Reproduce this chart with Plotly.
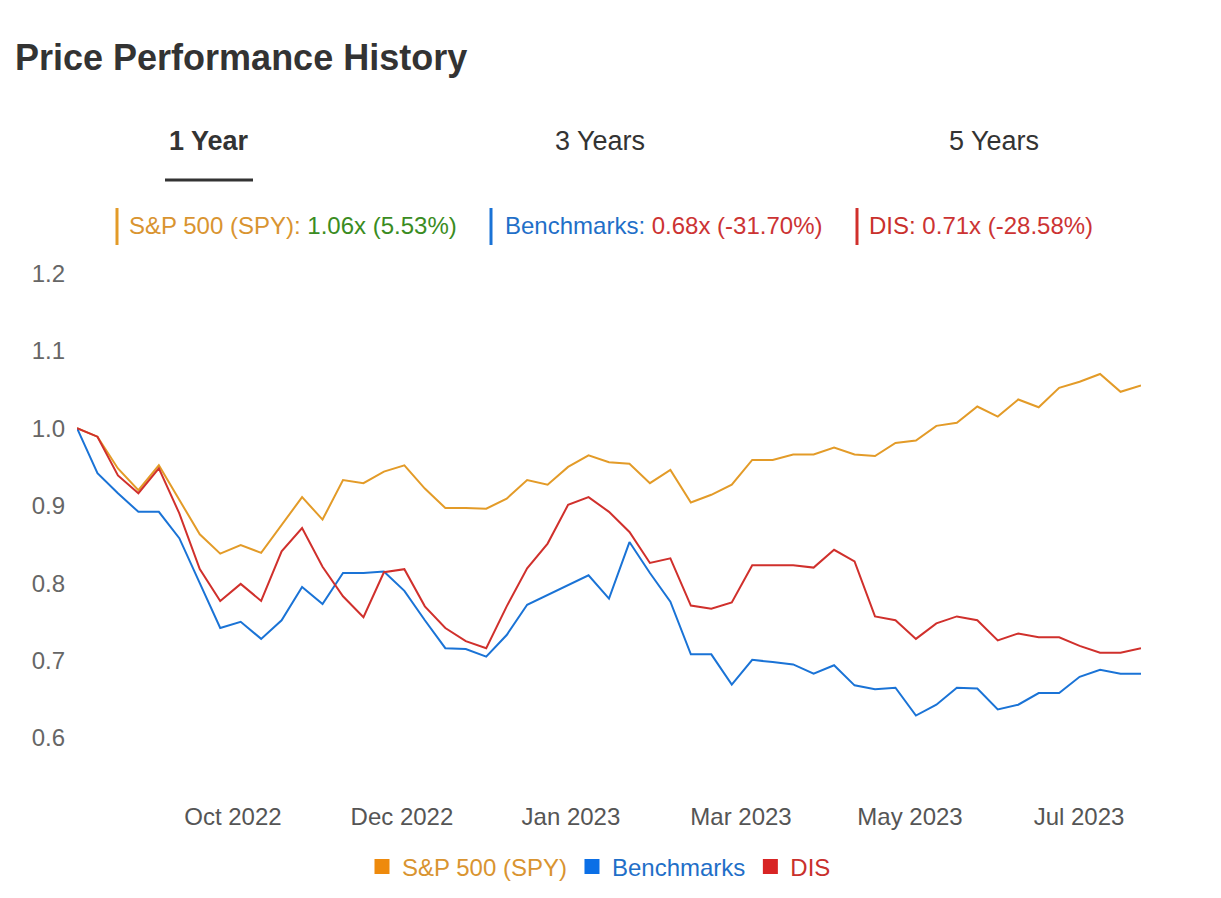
import plotly.graph_objects as go

# ---------------- data ----------------
series_names = ["S&P 500 (SPY)", "Benchmarks", "DIS"]

spy = [1.000, 0.989, 0.948, 0.920, 0.952, 0.907, 0.863, 0.838, 0.849, 0.839,
       0.875, 0.911, 0.882, 0.933, 0.929, 0.944, 0.952, 0.922, 0.897, 0.897,
       0.896, 0.909, 0.933, 0.927, 0.950, 0.965, 0.956, 0.954, 0.929, 0.946,
       0.904, 0.914, 0.927, 0.959, 0.959, 0.966, 0.966, 0.975, 0.966, 0.964,
       0.981, 0.984, 1.003, 1.007, 1.028, 1.015, 1.037, 1.027, 1.052, 1.060,
       1.070, 1.047, 1.055]

benchmarks = [1.000, 0.942, 0.916, 0.892, 0.892, 0.858, 0.800, 0.742, 0.750, 0.728,
              0.752, 0.795, 0.773, 0.813, 0.813, 0.815, 0.790, 0.752, 0.716, 0.715,
              0.705, 0.733, 0.772, 0.785, 0.798, 0.810, 0.780, 0.853, 0.813, 0.776,
              0.708, 0.708, 0.669, 0.701, 0.698, 0.695, 0.683, 0.694, 0.668, 0.663,
              0.665, 0.629, 0.643, 0.665, 0.664, 0.637, 0.643, 0.658, 0.658, 0.679,
              0.688, 0.683, 0.683]

dis = [1.000, 0.989, 0.939, 0.916, 0.948, 0.890, 0.818, 0.777, 0.799, 0.777,
       0.841, 0.871, 0.821, 0.783, 0.756, 0.814, 0.818, 0.770, 0.742, 0.725,
       0.716, 0.770, 0.819, 0.851, 0.901, 0.911, 0.892, 0.866, 0.826, 0.832,
       0.771, 0.767, 0.775, 0.823, 0.823, 0.823, 0.820, 0.843, 0.828, 0.757,
       0.752, 0.728, 0.748, 0.757, 0.752, 0.726, 0.735, 0.730, 0.730, 0.719,
       0.710, 0.710, 0.716]

week_index = list(range(len(spy)))

x_tick_labels = ["Oct 2022", "Dec 2022", "Jan 2023", "Mar 2023", "May 2023", "Jul 2023"]
y_tick_values = [0.6, 0.7, 0.8, 0.9, 1.0, 1.1, 1.2]

summary_multiples = ["1.06x", "0.68x", "0.71x"]
summary_returns = ["5.53%", "-31.70%", "-28.58%"]

# ---------------- styling ----------------
FONT = "Liberation Sans, Arial, Helvetica, sans-serif"
line_colors = ["#e39b28", "#1a73d6", "#d0302c"]
square_colors = ["#ee8a0c", "#0b6fe6", "#d82424"]
label_colors = ["#d99430", "#1f6fc8", "#c9302c"]
green = "#3a8c22"
red_txt = "#cc3333"

W, H = 1205, 882
OFF = 8  # body margin of the page
L, R, T, B = 69, 72, 242, 90
PW = W - L - R
PH = H - T - B


def px(xpage):
    return (xpage - OFF - L) / PW


def py(ypage):
    return (OFF + H - B - ypage) / PH


def cy(ypage):
    return (OFF + H - ypage) / H


fig = go.Figure()

for name, vals, col in zip(series_names, [spy, benchmarks, dis], line_colors):
    fig.add_trace(go.Scatter(x=week_index, y=vals, mode="lines", name=name,
                             line=dict(color=col, width=2), showlegend=False,
                             legendgroup=name, hoverinfo="x+y+name"))

for name, sq, lc in zip(series_names, square_colors, label_colors):
    fig.add_trace(go.Scatter(x=[None], y=[None], mode="markers",
                             name=f"<span style='color:{lc}'>{name}</span>",
                             marker=dict(symbol="square", size=15, color=sq),
                             legendgroup=name, showlegend=True))

annotations = []
shapes = []

# title
annotations.append(dict(text="<b>Price Performance History</b>", x=px(13), y=py(57),
                        xref="paper", yref="paper", xanchor="left", yanchor="middle",
                        showarrow=False, font=dict(size=36, color="#333333", family=FONT)))

# tabs
tabs = [("<b>1 Year</b>", 209), ("3 Years", 600), ("5 Years", 994)]
for txt, cx in tabs:
    annotations.append(dict(text=txt, x=px(cx), y=py(141), xref="paper", yref="paper",
                            xanchor="center", yanchor="middle", showarrow=False,
                            font=dict(size=27, color="#333333", family=FONT)))
shapes.append(dict(type="line", xref="paper", yref="paper", x0=px(165), x1=px(253),
                   y0=py(180), y1=py(180), line=dict(color="#333333", width=3)))

# summary header
bar_x = [117, 491, 857]
text_x = [127, 503, 867]
value_colors = [green, red_txt, red_txt]
for i, name in enumerate(series_names):
    shapes.append(dict(type="line", xref="paper", yref="paper", x0=px(bar_x[i]), x1=px(bar_x[i]),
                       y0=py(208), y1=py(245), line=dict(color=line_colors[i], width=3)))
    txt = (f"<span style='color:{label_colors[i]}'>{name}:</span> "
           f"<span style='color:{value_colors[i]}'>{summary_multiples[i]} ({summary_returns[i]})</span>")
    annotations.append(dict(text=txt, x=px(text_x[i]), y=py(226), xref="paper", yref="paper",
                            xanchor="left", yanchor="middle", showarrow=False,
                            font=dict(size=24, family=FONT)))

fig.update_layout(
    width=W, height=H,
    margin=dict(l=L, r=R, t=T, b=B, autoexpand=False),
    paper_bgcolor="white", plot_bgcolor="white",
    font=dict(family=FONT, size=24, color="#666666"),
    showlegend=True,
    legend=dict(orientation="h", x=0.4906, xanchor="center",
                yref="container", y=cy(867), yanchor="middle",
                font=dict(size=24, family=FONT), itemsizing="trace", bgcolor="rgba(0,0,0,0)",
                itemclick=False, itemdoubleclick=False),
    xaxis=dict(range=[0, len(spy) - 1], tickmode="array",
               tickvals=[7.62, 15.88, 24.14, 32.45, 40.71, 48.97],
               ticktext=x_tick_labels, showgrid=False, zeroline=False, showline=False,
               ticks="", tickfont=dict(size=24, color="#555555", family=FONT)),
    yaxis=dict(range=[0.52, 1.23], tickmode="array", tickvals=y_tick_values,
               tickformat=".1f", showgrid=False, zeroline=False, showline=False,
               ticks="", ticklabelstandoff=11,
               tickfont=dict(size=24, color="#666666", family=FONT)),
    annotations=annotations,
    shapes=shapes,
)

fig.write_html("out.html")
